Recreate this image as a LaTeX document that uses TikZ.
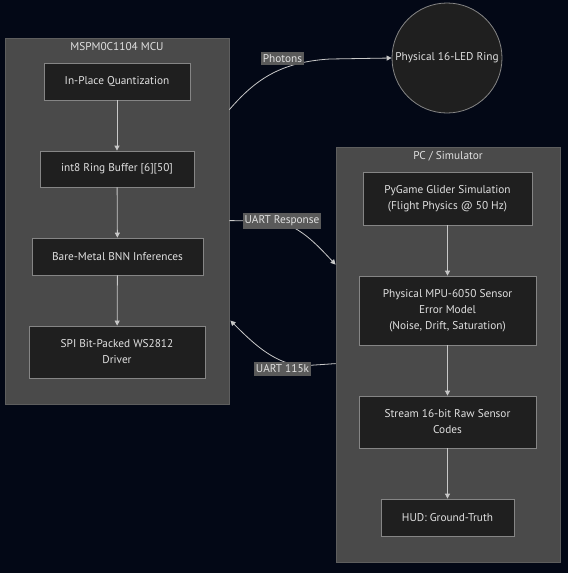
\documentclass[tikz,border=0pt]{standalone}
\usepackage{fontspec}
\setmainfont{PT Sans}
\usetikzlibrary{arrows.meta,calc}
\definecolor{bgc}{HTML}{030816}
\definecolor{clfill}{HTML}{4A4A4A}
\definecolor{clline}{HTML}{5E5E5E}
\definecolor{ndfill}{HTML}{1F1F1F}
\definecolor{ndline}{HTML}{858585}
\definecolor{txt}{HTML}{E0E0E0}
\definecolor{edge}{HTML}{C8C8C8}
\definecolor{lblbg}{HTML}{5A5A5A}
\begin{document}
\begin{tikzpicture}[x=1pt,y=-1pt,
  font=\fontsize{11.3}{16}\selectfont,
  cluster/.style={draw=clline,fill=clfill,line width=0.8pt,inner sep=0pt},
  ctitle/.style={text=txt,inner sep=0pt},
  proc/.style={draw=ndline,fill=ndfill,line width=0.8pt,text=txt,align=center,inner sep=0pt},
  ring/.style={circle,draw=ndline,fill=ndfill,line width=0.8pt,text=txt,inner sep=0pt,minimum size=110pt},
  flow/.style={draw=edge,line width=0.8pt,-{Triangle[length=5pt,width=5pt]}},
  elabel/.style={fill=lblbg,text=txt,inner xsep=1.5pt,inner ysep=2.5pt}
]
\fill[bgc] (0,0) rectangle (568,573);
\useasboundingbox (0,0) rectangle (568,573);

% clusters
\node[cluster,minimum width=224pt,minimum height=366pt] (mcu) at (117,221) {};
\node[ctitle] (mcut) at (117,47) {MSPM0C1104 MCU};
\node[cluster,minimum width=224pt,minimum height=415pt] (pc) at (448,354.5) {};
\node[ctitle] (pct) at (448,156) {PC / Simulator};

% MCU nodes
\node[proc,minimum width=146pt,minimum height=37pt] (q) at (117,81.5) {In-Place Quantization};
\node[proc,minimum width=154pt,minimum height=36pt] (rb) at (117,169) {int8 Ring Buffer [6][50]};
\node[proc,minimum width=171pt,minimum height=37pt] (bnn) at (117.5,256.5) {Bare-Metal BNN Inferences};
\node[proc,minimum width=176pt,minimum height=52pt] (spi) at (117,352) {SPI Bit-Packed WS2812\\Driver};

% LED ring
\node[ring] (led) at (447,58) {Physical 16-LED Ring};

% PC nodes
\node[proc,minimum width=169pt,minimum height=53pt] (py) at (447.5,198.5) {PyGame Glider Simulation\\(Flight Physics @ 50 Hz)};
\node[proc,minimum width=177pt,minimum height=69pt] (mpu) at (447.5,310.5) {Physical MPU-6050 Sensor\\Error Model\\(Noise, Drift, Saturation)};
\node[proc,minimum width=177pt,minimum height=52pt] (st) at (447.5,422) {Stream 16-bit Raw Sensor\\Codes};
\node[proc,minimum width=133pt,minimum height=37pt] (hud) at (447.5,517.5) {HUD: Ground-Truth};

% intra-cluster flows
\draw[flow] (q) -- (rb);
\draw[flow] (rb) -- (bnn);
\draw[flow] (bnn) -- (spi);
\draw[flow] (py) -- (mpu);
\draw[flow] (mpu) -- (st);
\draw[flow] (st) -- (hud);

% border coordinates
\coordinate (mcuA) at ($(mcu.north east)+(0,72)$);
\coordinate (mcuB) at ($(mcu.north east)+(0,183)$);
\coordinate (mcuC) at ($(mcu.north east)+(1,283)$);
\coordinate (pcA) at ($(pc.north west)+(0,118)$);
\coordinate (pcB) at ($(pc.north west)+(0,217)$);

% inter-cluster flows
\draw[flow] (mcuA) .. controls (255,80) and (280,62) .. (330,59) -- (led.west);
\node[elabel] (lphot) at (282.5,58.5) {Photons};

\draw[flow] (mcuB) -- (272,221) .. controls (298,223) and (318,246) .. (pcA);
\node[elabel] (luart) at (282,221) {UART Response};

\draw[flow] (pcB) -- (300,366) .. controls (272,362) and (252,342) .. (mcuC);
\node[elabel] (l115) at (282.5,369) {UART 115k};
\end{tikzpicture}
\end{document}
